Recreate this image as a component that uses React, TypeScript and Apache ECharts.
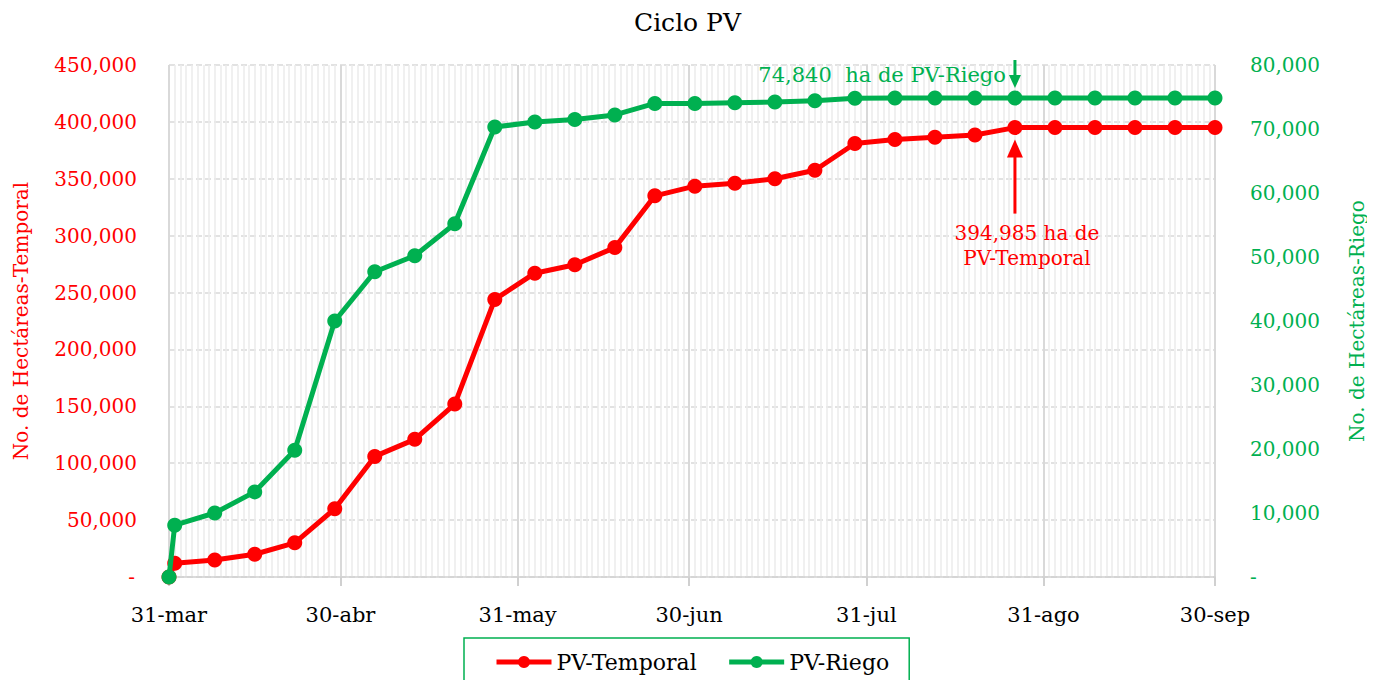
import React, { useEffect, useRef } from "react";
import * as echarts from "echarts";

const monthNames = ["mar", "abr", "may", "jun", "jul", "ago", "sep"];
const monthDays = [31, 30, 31, 30, 31, 31, 30];
// x categories: every day from 31-mar to 30-sep
const dayCategories: string[] = ["31-mar"];
for (let m = 1; m < monthNames.length; m++) {
  for (let d = 1; d <= monthDays[m]; d++) dayCategories.push(`${d}-${monthNames[m]}`);
}
const monthEndLabels = ["31-mar", "30-abr", "31-may", "30-jun", "31-jul", "31-ago", "30-sep"];

const pointDates = [
  "31-mar", "1-abr", "8-abr", "15-abr", "22-abr", "29-abr", "6-may", "13-may", "20-may", "27-may",
  "3-jun", "10-jun", "17-jun", "24-jun", "1-jul", "8-jul", "15-jul", "22-jul", "29-jul",
  "5-ago", "12-ago", "19-ago", "26-ago", "2-sep", "9-sep", "16-sep", "23-sep", "30-sep",
];
const temporalValues = [
  0, 12000, 15000, 20000, 30000, 60000, 106000, 121000, 152000, 244000,
  267000, 274500, 289500, 335000, 343500, 346000, 350000, 357500, 381000,
  384500, 386500, 388500, 394985, 394985, 394985, 394985, 394985, 394985,
];
const riegoValues = [
  0, 8100, 10000, 13300, 19800, 40000, 47700, 50200, 55200, 70300,
  71100, 71500, 72200, 74000, 74000, 74100, 74200, 74400, 74800,
  74840, 74840, 74840, 74840, 74840, 74840, 74840, 74840, 74840,
];
const leftTicks = { min: 0, max: 450000, interval: 50000 };
const rightTicks = { min: 0, max: 80000, interval: 10000 };

const RED = "#FF0000";
const GREEN = "#00B050";
const FONT = "DejaVu Serif";

const fmt = (v: number) => v.toLocaleString("en-US");

export default function App() {
  const ref = useRef<HTMLDivElement>(null);
  useEffect(() => {
    if (!ref.current) return;
    const chart = echarts.init(ref.current, undefined, { renderer: "svg" });
    const isMonthEnd = (_i: number, v: string) => monthEndLabels.includes(v);
    const option: any = {
      animation: false,
      textStyle: { fontFamily: FONT },
      title: {
        text: "Ciclo PV",
        left: "center",
        top: 5,
        textStyle: { fontFamily: FONT, fontSize: 25, fontWeight: "normal", color: "#000" },
      },
      legend: {
        left: 464,
        top: 638,
        borderColor: GREEN,
        borderWidth: 1.5,
        padding: [13, 20, 20, 30],
        itemWidth: 55,
        itemHeight: 15,
        itemGap: 30,
        lineStyle: { width: 5 },
        textStyle: { fontFamily: FONT, fontSize: 22, color: "#000" },
        data: ["PV-Temporal", "PV-Riego"],
      },
      grid: { left: 169, right: 157, top: 65, bottom: 111 },
      xAxis: [
        {
          type: "category",
          data: dayCategories,
          boundaryGap: false,
          axisLine: { lineStyle: { color: "#d0d0d0", width: 1.5 } },
          axisTick: { interval: isMonthEnd, length: 9, lineStyle: { color: "#d0d0d0", width: 2 } },
          axisLabel: {
            interval: isMonthEnd,
            color: "#000",
            fontFamily: FONT,
            fontSize: 21,
            margin: 27,
          },
          splitLine: { show: true, interval: 0, lineStyle: { color: "#ebebeb", width: 1.5 } },
        },
        {
          type: "category",
          data: dayCategories,
          boundaryGap: false,
          position: "bottom",
          axisLine: { show: false },
          axisTick: { show: false },
          axisLabel: { show: false },
          splitLine: { show: true, interval: isMonthEnd, lineStyle: { color: "#d9d9d9", width: 2 } },
        },
      ],
      yAxis: [
        {
          type: "value",
          ...leftTicks,
          name: "No. de Hectáreas-Temporal",
          nameLocation: "middle",
          nameRotate: 90,
          nameGap: 138,
          nameTextStyle: { color: RED, fontFamily: FONT, fontSize: 20 },
          axisLine: { show: false },
          axisTick: { show: false },
          axisLabel: {
            color: RED,
            fontFamily: FONT,
            fontSize: 20,
            margin: 32,
            formatter: (v: number) => (v === 0 ? "{d|-}" : fmt(v)),
            rich: { d: { color: RED, fontFamily: FONT, fontSize: 20, padding: [0, 2, 0, 0] } },
          },
          splitLine: { show: true, lineStyle: { color: "#d9d9d9", width: 1.5, type: [6, 3] } },
        },
        {
          type: "value",
          ...rightTicks,
          position: "right",
          name: "No. de Hectáreas-Riego",
          nameLocation: "middle",
          nameRotate: 90,
          nameGap: 132,
          nameTextStyle: { color: GREEN, fontFamily: FONT, fontSize: 20 },
          axisLine: { show: false },
          axisTick: { show: false },
          axisLabel: {
            color: GREEN,
            fontFamily: FONT,
            fontSize: 20,
            margin: 35,
            formatter: (v: number) => (v === 0 ? "-" : fmt(v)),
          },
          splitLine: { show: false },
        },
      ],
      series: [
        {
          name: "PV-Temporal",
          type: "line",
          xAxisIndex: 0,
          yAxisIndex: 0,
          data: pointDates.map((d, i) => [d, temporalValues[i]]),
          color: RED,
          lineStyle: { width: 5, color: RED },
          symbol: "circle",
          symbolSize: 15,
          showSymbol: true,
          showAllSymbol: true,
          z: 3,
        },
        {
          name: "PV-Riego",
          type: "line",
          xAxisIndex: 0,
          yAxisIndex: 1,
          data: pointDates.map((d, i) => [d, riegoValues[i]]),
          color: GREEN,
          lineStyle: { width: 5, color: GREEN },
          symbol: "circle",
          symbolSize: 15,
          showSymbol: true,
          showAllSymbol: true,
          z: 4,
        },
      ],
    };
    chart.setOption(option);

    // annotations anchored to the 26-ago data point
    const idx = pointDates.indexOf("26-ago");
    const catIdx = dayCategories.indexOf("26-ago");
    const pr = chart.convertToPixel({ xAxisIndex: 0, yAxisIndex: 0 }, [catIdx, temporalValues[idx]]) as number[];
    const pg = chart.convertToPixel({ xAxisIndex: 0, yAxisIndex: 1 }, [catIdx, riegoValues[idx]]) as number[];
    if (pr && pg) {
      const xr = pr[0];
      const yr = pr[1];
      const yg = pg[1];
      chart.setOption({
        graphic: [
          { type: "line", shape: { x1: xr, y1: yr + 86, x2: xr, y2: yr + 28 }, style: { stroke: RED, lineWidth: 3 } },
          { type: "polygon", shape: { points: [[xr - 8, yr + 30], [xr + 8, yr + 30], [xr, yr + 12]] }, style: { fill: RED } },
          {
            type: "text",
            x: xr + 12,
            y: yr + 105,
            style: { text: "394,985 ha de", fill: RED, font: `20px '${FONT}'`, textAlign: "center", textVerticalAlign: "middle" },
          },
          {
            type: "text",
            x: xr + 12,
            y: yr + 130,
            style: { text: "PV-Temporal", fill: RED, font: `20px '${FONT}'`, textAlign: "center", textVerticalAlign: "middle" },
          },
          { type: "line", shape: { x1: xr, y1: yg - 38, x2: xr, y2: yg - 22 }, style: { stroke: GREEN, lineWidth: 3 } },
          { type: "polygon", shape: { points: [[xr - 6, yg - 23], [xr + 6, yg - 23], [xr, yg - 10]] }, style: { fill: GREEN } },
          {
            type: "text",
            x: xr - 9,
            y: yg - 23,
            style: { text: `${fmt(riegoValues[idx])}  ha de PV-Riego`, fill: GREEN, font: `21px '${FONT}'`, textAlign: "right", textVerticalAlign: "middle" },
          },
        ],
      });
    }
    return () => chart.dispose();
  }, []);
  return <div ref={ref} style={{ width: 1375, height: 688, margin: -8 }} />;
}
